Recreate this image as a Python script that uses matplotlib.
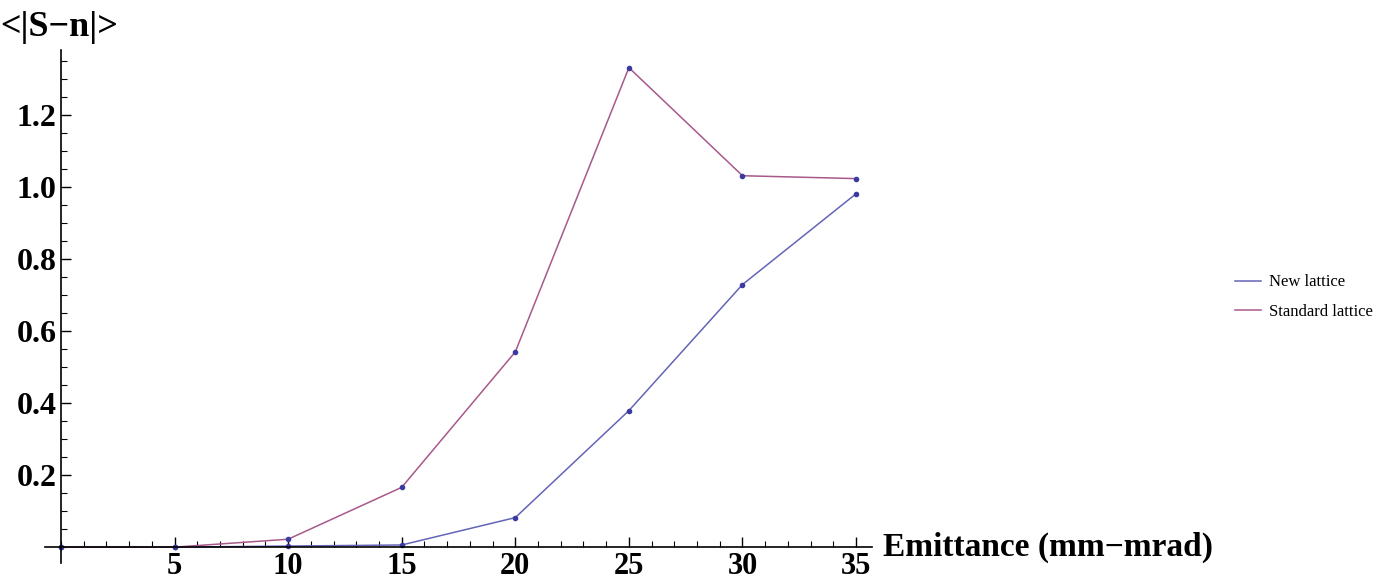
import matplotlib
matplotlib.use("Agg")
import matplotlib.pyplot as plt
from matplotlib.ticker import MultipleLocator, FixedLocator

plt.rcParams['font.family'] = ['Liberation Serif', 'DejaVu Serif']

emittance = [0, 5, 10, 15, 20, 25, 30, 35]
new_lattice = [0.0, 0.0, 0.003, 0.006, 0.082, 0.379, 0.729, 0.981]
standard_lattice = [0.0, 0.0, 0.022, 0.166, 0.542, 1.331, 1.031, 1.023]
x_ticks = [5, 10, 15, 20, 25, 30, 35]
y_ticks = [0.2, 0.4, 0.6, 0.8, 1.0, 1.2]

blue = '#6464b8'
purple = '#a8588a'
dot = '#3a3aa0'

fig = plt.figure(figsize=(13.73, 5.8), dpi=100)
ax = fig.add_axes([45 / 1373, 1 - 563 / 580, 827 / 1373, 513 / 580])

ax.plot(emittance, new_lattice, color=blue, lw=1.1, label='New lattice')
ax.plot(emittance, standard_lattice, color=purple, lw=1.1, label='Standard lattice')
ax.plot(emittance, new_lattice, ls='none', marker='o', ms=3, color=dot)
ax.plot(emittance, standard_lattice, ls='none', marker='o', ms=3, color=dot)

ax.set_xlim(-0.7, 35.7)
ax.set_ylim(-0.044, 1.38)

for s in ['top', 'right']:
    ax.spines[s].set_visible(False)
ax.spines['left'].set_position(('data', 0))
ax.spines['bottom'].set_position(('data', 0))
ax.spines['left'].set_linewidth(1.2)
ax.spines['bottom'].set_linewidth(1.2)

ax.xaxis.set_major_locator(FixedLocator(x_ticks))
ax.xaxis.set_minor_locator(MultipleLocator(1))
ax.yaxis.set_major_locator(FixedLocator(y_ticks))
ax.yaxis.set_minor_locator(MultipleLocator(0.05))
ax.set_yticklabels(['%.1f' % v for v in y_ticks])

ax.tick_params(which='major', direction='in', length=7, width=1.0,
               labelsize=23)
ax.tick_params(which='minor', direction='in', length=4, width=0.8)
ax.tick_params(axis='x', pad=3.5, labelsize=22)
ax.tick_params(axis='y', pad=3)
for lab in ax.get_xticklabels() + ax.get_yticklabels():
    lab.set_fontweight('bold')

ax.text(1.013, 0, 'Emittance (mm\u2212mrad)', transform=ax.get_yaxis_transform(),
        ha='left', va='center', fontsize=24, fontweight='bold')
fig.text(0.0, 1 - 27 / 580, '<|S\u2212n|>', ha='left', va='center',
         fontsize=26, fontweight='bold')

ax.legend(loc='center left', bbox_to_anchor=(1235 / 1373, 1 - 297 / 580),
          bbox_transform=fig.transFigure, frameon=False, fontsize=12,
          borderpad=0, borderaxespad=0, handlelength=1.56, handletextpad=0.48,
          labelspacing=0.8)

fig.savefig('out.png', dpi=100)
